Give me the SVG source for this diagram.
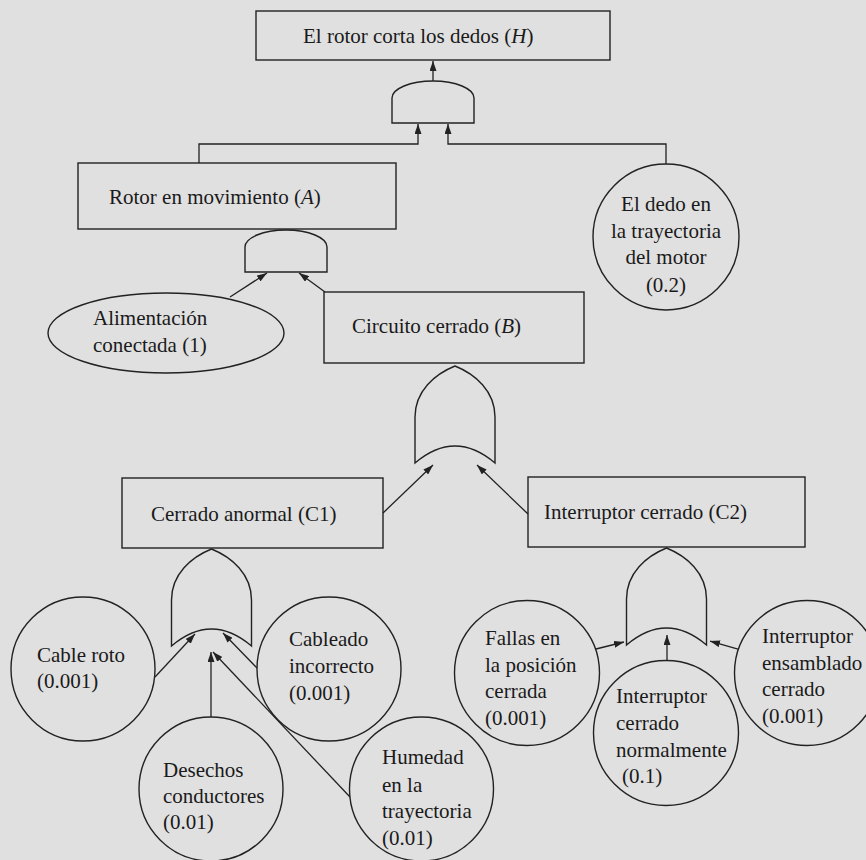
<svg xmlns="http://www.w3.org/2000/svg" xmlns:xlink="http://www.w3.org/1999/xlink" width="866" height="860" viewBox="0 0 866 860" font-family="Liberation Serif, Times New Roman, DejaVu Serif, serif">
<style>
.bg{fill:#e0e0e0}
.shape{fill:none;stroke:#222;stroke-width:1.4}
.conn{fill:none;stroke:#222;stroke-width:1.3}
text{font-size:21px;fill:#1a1a1a}
.c{text-anchor:middle}
.i{font-style:italic}
</style>
<defs>
<marker id="arr" markerWidth="10" markerHeight="7" refX="10" refY="3.5" orient="auto" markerUnits="userSpaceOnUse">
<path d="M0,0 L10,3.5 L0,7 Z" fill="#222"/>
</marker>
<path id="orgate" d="M-40,97 V51 C-40,25 -20,8 0,0 C20,8 40,25 40,51 V97 Q0,63 -40,97 Z"/>
<path id="andgate" d="M-41,42 V17 A41,17 0 0 1 41,17 V42 Z"/>
</defs>
<rect class="bg" x="0" y="0" width="866" height="860"/>

<g id="connectors" class="conn">
<line x1="433" y1="81" x2="433" y2="61" marker-end="url(#arr)"/>
<polyline points="199,163 199,144 418,144 418,124" marker-end="url(#arr)"/>
<polyline points="666,164 666,144 448,144 448,124" marker-end="url(#arr)"/>
<line x1="230" y1="297" x2="267" y2="273" marker-end="url(#arr)"/>
<line x1="325" y1="292" x2="299" y2="273" marker-end="url(#arr)"/>
<line x1="383" y1="513" x2="433" y2="465" marker-end="url(#arr)"/>
<line x1="528" y1="514" x2="477" y2="465" marker-end="url(#arr)"/>
<line x1="155" y1="677" x2="195" y2="634" marker-end="url(#arr)"/>
<line x1="257" y1="668" x2="223" y2="633" marker-end="url(#arr)"/>
<line x1="211" y1="717" x2="211" y2="652" marker-end="url(#arr)"/>
<line x1="350" y1="797" x2="213" y2="652" marker-end="url(#arr)"/>
<line x1="596" y1="649" x2="624" y2="642" marker-end="url(#arr)"/>
<line x1="667" y1="660" x2="667" y2="635" marker-end="url(#arr)"/>
<line x1="738" y1="649" x2="710" y2="641" marker-end="url(#arr)"/>
</g>

<g id="H">
<rect class="shape" x="256" y="11" width="354" height="49"/>
<text x="303" y="43">El rotor corta los dedos (<tspan class="i">H</tspan>)</text>
</g>
<g id="gate-H"><use xlink:href="#andgate" class="shape" transform="translate(433,81)"/></g>

<g id="A">
<rect class="shape" x="78" y="163" width="318" height="66"/>
<text x="109" y="204">Rotor en movimiento (<tspan class="i">A</tspan>)</text>
</g>
<g id="gate-A"><use xlink:href="#andgate" class="shape" transform="translate(286,230)"/></g>

<g id="dedo">
<circle class="shape" cx="666" cy="237" r="73"/>
<text class="c" x="666" y="211">El dedo en</text>
<text class="c" x="666" y="238">la trayectoria</text>
<text class="c" x="666" y="264">del motor</text>
<text class="c" x="666" y="292">(0.2)</text>
</g>

<g id="alimentacion">
<ellipse class="shape" cx="166" cy="333" rx="118" ry="40"/>
<text x="93" y="325">Alimentación</text>
<text x="93" y="352">conectada (1)</text>
</g>

<g id="B">
<rect class="shape" x="324" y="292" width="260" height="71"/>
<text x="352" y="333">Circuito cerrado (<tspan class="i">B</tspan>)</text>
</g>
<g id="gate-B"><use xlink:href="#orgate" class="shape" transform="translate(455,366)"/></g>

<g id="C1">
<rect class="shape" x="122" y="478" width="261" height="70"/>
<text x="151" y="521">Cerrado anormal (C1)</text>
</g>
<g id="gate-C1"><use xlink:href="#orgate" class="shape" transform="translate(211.5,549)"/></g>

<g id="C2">
<rect class="shape" x="528" y="477" width="277" height="70"/>
<text x="544" y="519">Interruptor cerrado (C2)</text>
</g>
<g id="gate-C2"><use xlink:href="#orgate" class="shape" transform="translate(666.5,548)"/></g>

<g id="cable-roto">
<circle class="shape" cx="83" cy="669" r="72"/>
<text x="37" y="662">Cable roto</text>
<text x="37" y="688">(0.001)</text>
</g>

<g id="cableado">
<circle class="shape" cx="329" cy="669" r="72"/>
<text x="289" y="646">Cableado</text>
<text x="289" y="673">incorrecto</text>
<text x="289" y="700">(0.001)</text>
</g>

<g id="desechos">
<circle class="shape" cx="211" cy="789" r="72"/>
<text x="163" y="777">Desechos</text>
<text x="163" y="803">conductores</text>
<text x="163" y="829">(0.01)</text>
</g>

<g id="humedad">
<circle class="shape" cx="421.5" cy="789" r="72"/>
<text x="382" y="764">Humedad</text>
<text x="382" y="792">en la</text>
<text x="382" y="818">trayectoria</text>
<text x="382" y="845">(0.01)</text>
</g>

<g id="fallas">
<circle class="shape" cx="527" cy="673" r="72.5"/>
<text x="485" y="645">Fallas en</text>
<text x="485" y="672">la posición</text>
<text x="485" y="698">cerrada</text>
<text x="485" y="725">(0.001)</text>
</g>

<g id="normal">
<circle class="shape" cx="666" cy="733" r="72.5"/>
<text x="616" y="703">Interruptor</text>
<text x="616" y="730">cerrado</text>
<text x="616" y="757">normalmente</text>
<text x="622" y="783">(0.1)</text>
</g>

<g id="ensamblado">
<circle class="shape" cx="807" cy="673" r="72.5"/>
<text x="762" y="643">Interruptor</text>
<text x="762" y="670">ensamblado</text>
<text x="762" y="696">cerrado</text>
<text x="762" y="723">(0.001)</text>
</g>
</svg>
